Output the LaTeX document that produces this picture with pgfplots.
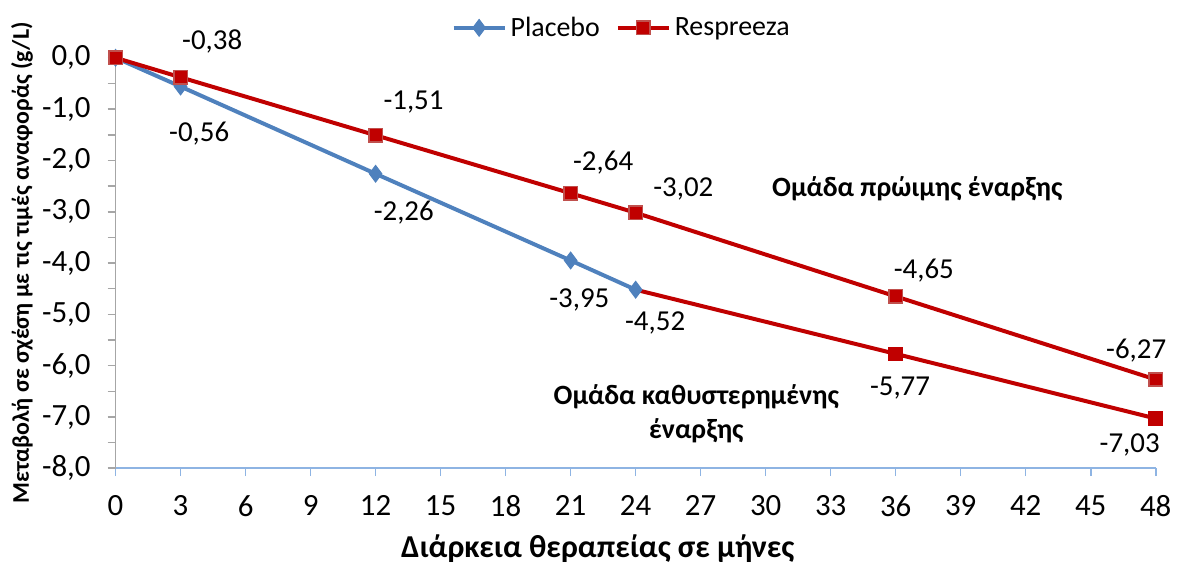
\documentclass[border=0pt]{standalone}
\usepackage{pgfplots}
\pgfplotsset{compat=1.18}
\usepackage{fontspec}
\setmainfont{Carlito}
\definecolor{pblue}{HTML}{4F81BD}
\definecolor{rred}{HTML}{C00000}
\definecolor{rborder}{HTML}{C0504D}
\definecolor{xaxisc}{HTML}{8EB4E3}
\definecolor{yaxisc}{HTML}{A6A6A6}
\begin{document}
\begin{tikzpicture}
\begin{axis}[
  width=522pt, height=206pt, scale only axis,
  xmin=0, xmax=48, ymin=-8, ymax=0,
  axis lines*=left,
  x axis line style={xaxisc, line width=0.8pt},
  y axis line style={yaxisc, line width=0.8pt},
  xtick={0,3,...,48},
  ytick={-8,-7,...,0},
  minor ytick={-7.5,-6.5,...,-0.5},
  tick align=outside,
  major tick length=4pt, minor tick length=4pt,
  xtick style={xaxisc, line width=0.8pt},
  ytick style={yaxisc, line width=0.8pt},
  minor tick style={yaxisc, line width=0.8pt},
  tick label style={font=\fontsize{15.5}{17}\selectfont},
  /pgf/number format/assume math mode=true,
  yticklabel style={/pgf/number format/.cd, fixed, fixed zerofill, precision=1, use comma, /tikz/.cd, xshift=-5pt},
  xticklabel style={yshift=-6pt},
  xlabel={\bfseries Διάρκεια θεραπείας σε μήνες},
  xlabel style={font=\fontsize{16}{18}\selectfont, at={(axis description cs:0.4636,-0.1966)}, anchor=center},
  ylabel={\bfseries Μεταβολή σε σχέση με τις τιμές αναφοράς (g/L)},
  ylabel style={font=\fontsize{12}{14}\selectfont, at={(axis description cs:-0.090,0.5)}, anchor=center},
  legend style={draw=none, fill=none, at={(axis description cs:0.4875,1.073)}, anchor=center,
    legend columns=2, font=\fontsize{14}{16}\selectfont,
    /tikz/every even column/.append style={column sep=6pt}},
  legend image code/.code={
    \draw[#1, mark=none] (0cm,0cm) -- (0.9cm,0cm);
    \path[#1] plot coordinates {(0.45cm,0cm)};
  },
  clip=false,
]
\path (axis description cs:-0.1111,-0.2306) rectangle (axis description cs:1.0172,1.1408);
% delayed start group
\addplot[rred, line width=2pt, mark=square*, mark size=3.4pt, mark indices={2,3},
  mark options={fill=rred, draw=rred, line width=0.5pt}, forget plot]
  coordinates {(24,-4.52) (36,-5.77) (48,-7.03)};
% placebo
\addplot[pblue, line width=2pt, mark=diamond*, mark size=4.2pt,
  mark options={fill=pblue, draw=pblue, line width=0.5pt}]
  coordinates {(0,0) (3,-0.56) (12,-2.26) (21,-3.95) (24,-4.52)};
\addlegendentry{Placebo}
% early start group
\addplot[rred, line width=2pt, mark=square*, mark size=3.4pt,
  mark options={fill=rred, draw=rborder, line width=0.8pt}]
  coordinates {(0,0) (3,-0.38) (12,-1.51) (21,-2.64) (24,-3.02) (36,-4.65) (48,-6.27)};
\addlegendentry{Respreeza}
\begin{scope}[every node/.style={font=\fontsize{14.5}{16}\selectfont, inner sep=0pt}]
\node at (axis cs:4.46,0.31) {-0,38};
\node at (axis cs:3.86,-1.48) {-0,56};
\node at (axis cs:13.75,-0.87) {-1,51};
\node at (axis cs:13.3,-3.01) {-2,26};
\node at (axis cs:22.5,-2.04) {-2,64};
\node at (axis cs:26.2,-2.56) {-3,02};
\node at (axis cs:21.4,-4.72) {-3,95};
\node at (axis cs:24.9,-5.16) {-4,52};
\node at (axis cs:37.3,-4.14) {-4,65};
\node at (axis cs:36.2,-6.43) {-5,77};
\node at (axis cs:47.1,-5.71) {-6,27};
\node at (axis cs:46.8,-7.55) {-7,03};
\node[font=\fontsize{14}{16}\selectfont\bfseries] at (axis cs:37.0,-2.56) {Ομάδα πρώιμης έναρξης};
\node[font=\fontsize{14}{17}\selectfont\bfseries, align=center] at (axis cs:26.8,-6.93) {Ομάδα καθυστερημένης\\έναρξης};
\end{scope}
\end{axis}
\end{tikzpicture}
\end{document}
